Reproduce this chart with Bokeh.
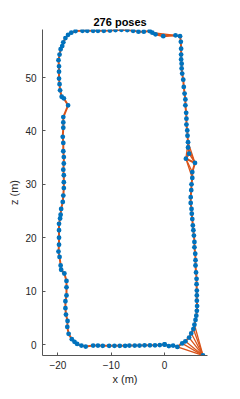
from bokeh.plotting import figure
from bokeh.models import Range1d, FixedTicker
from bokeh.embed import file_html
from bokeh.resources import INLINE

# pose positions (m), in trajectory order
pose_x = [0.0, 0.8, 1.6, 2.4, 3.3, 3.9, 4.6, 5.0, 5.4, 5.6, 5.8, 5.95, 6.05, 6.1, 6.05, 6.05, 6.05, 6.0, 6.0, 5.9,
          5.8, 5.8, 5.75, 5.6, 5.6, 5.5, 5.4, 5.3, 5.2, 5.1, 5.05, 4.9, 4.9, 5.0, 5.05, 5.2, 5.2, 5.7, 4.0, 4.6,
          4.4, 4.4, 4.3, 4.25, 4.1, 4.1, 4.05, 3.9, 3.9, 3.75, 3.6, 3.5, 3.3, 3.2, 3.2, 3.1, 3.1, 3.1, 3.05, 2.9,
          2.05, -0.25, -1.7, -2.3, -2.8, -3.9, -4.9, -5.9, -7.0, -8.1, -9.2, -10.25, -11.4, -12.5, -13.4, -14.5,
          -15.4, -16.7, -17.5, -18.1, -18.6, -19.0, -19.2, -19.5, -19.7, -19.9, -19.8, -19.8, -19.8, -19.7, -19.6,
          -19.3, -18.9, -18.1, -19.0, -19.0, -19.0, -19.1, -19.0, -19.0, -18.9, -18.9, -19.0, -18.9, -18.9, -18.9,
          -19.0, -19.1, -19.4, -19.5, -19.6, -19.8, -19.8, -19.8, -19.8, -19.9, -19.7, -19.5, -19.4, -18.8, -18.4,
          -18.4, -18.4, -18.6, -18.6, -18.5, -18.2, -18.25, -18.0, -17.4, -16.9, -16.4, -15.6, -14.8, -13.4, -12.5,
          -11.6, -10.4, -9.4, -8.4, -7.4, -6.6, -5.6, -4.7, -3.75, -2.75, -1.8, -0.9, 0.0]
pose_z = [0.0, -0.3, -0.2, -0.45, 0.2, 0.6, 1.3, 2.1, 2.9, 3.7, 4.6, 5.4, 6.3, 7.2, 8.2, 9.2, 10.1, 11.3, 12.3, 13.5,
          14.8, 15.8, 17.0, 18.2, 19.2, 20.4, 21.4, 22.3, 23.5, 24.5, 25.4, 26.5, 27.6, 28.9, 30.0, 31.2, 32.3, 34.0, 34.8, 35.75,
          36.9, 37.9, 39.1, 40.1, 41.2, 42.3, 43.4, 44.8, 45.9, 47.0, 48.25, 49.6, 50.75, 51.7, 52.6, 53.4, 54.3, 55.4, 56.7, 57.75,
          57.9, 57.75, 58.1, 58.4, 58.7, 58.6, 58.6, 58.75, 58.9, 58.95, 58.9, 58.8, 58.75, 58.75, 58.75, 58.75,
          58.75, 58.7, 58.4, 58.0, 57.4, 56.6, 55.9, 55.3, 54.3, 53.25, 52.1, 51.1, 49.8, 48.75, 47.6,
          46.4, 46.1, 44.8, 42.6, 41.6, 40.6, 38.9, 37.75, 36.2, 35.1, 33.9, 32.75, 31.7, 30.4, 29.3,
          27.9, 26.7, 25.4, 24.3, 23.6, 22.6, 21.4, 20.0, 18.7, 17.4, 16.4, 14.8, 14.0, 13.3, 11.9,
          10.7, 9.2, 8.1, 6.8, 5.6, 4.4, 3.3, 2.0, 1.0, 0.5, 0.1, -0.2, -0.38, -0.2, -0.2,
          -0.25, -0.25, -0.25, -0.25, -0.25, -0.2, -0.2, -0.2, -0.15, -0.15, -0.15, -0.1, 0.0]

# isolated pose with many loop-closure edges
extra_x = [7.2]
extra_z = [-2.05]

# loop-closure edges (start / end coordinates)
lc_x0 = [7.2, 7.2, 7.2, 7.2, 7.2, 7.2, 7.2, 5.7, 5.7, 5.7, 4.0, 4.0, 4.0, -2.3, -1.7]
lc_z0 = [-2.05, -2.05, -2.05, -2.05, -2.05, -2.05, -2.05, 34.0, 34.0, 34.0, 34.8, 34.8, 34.8, 58.4, 58.1]
lc_x1 = [2.4, 3.3, 3.9, 4.6, 5.0, 5.4, 5.6, 4.4, 4.6, 4.4, 5.2, 5.2, 4.4, 2.05, 2.9]
lc_z1 = [-0.45, 0.2, 0.6, 1.3, 2.1, 2.9, 3.7, 36.9, 35.75, 37.9, 32.3, 31.2, 37.9, 57.9, 57.75]

x_ticks = [-20, -10, 0]
z_ticks = [0, 10, 20, 30, 40, 50]

FONT = "Liberation Sans"
ORANGE = "#D95319"
BLUE = "#0072BD"
AX = "#262626"

p = figure(width=232, height=391, output_backend="svg", toolbar_location=None,
           x_range=Range1d(-22.9, 8.05), y_range=Range1d(-2.06, 59.0),
           min_border_left=42, min_border_right=25, min_border_top=29, min_border_bottom=36)

p.segment(x0=lc_x0, y0=lc_z0, x1=lc_x1, y1=lc_z1, line_color=ORANGE, line_width=1.3)
p.line(pose_x, pose_z, line_color=ORANGE, line_width=2)
p.scatter(pose_x, pose_z, size=4.8, fill_color=BLUE, line_color=None)
p.scatter(extra_x, extra_z, size=4.8, fill_color=BLUE, line_color=None)

p.title.text = "276 poses"
p.title.text_font = FONT
p.title.text_font_size = "11px"
p.title.text_font_style = "bold"
p.title.text_color = "#000000"
p.title.align = "left"
p.title.offset = 51
p.title.standoff = 3

p.xaxis.axis_label = "x (m)"
p.yaxis.axis_label = "z (m)"
p.xaxis.ticker = FixedTicker(ticks=x_ticks)
p.yaxis.ticker = FixedTicker(ticks=z_ticks)
for ax in (p.xaxis, p.yaxis):
    ax.axis_line_color = "#555555"
    ax.axis_line_width = 1
    ax.major_tick_in = 3
    ax.major_tick_out = 0
    ax.major_tick_line_color = "#555555"
    ax.minor_tick_line_color = None
    ax.major_label_text_font = FONT
    ax.major_label_text_font_size = "10px"
    ax.major_label_text_color = AX
    ax.axis_label_text_font = FONT
    ax.axis_label_text_font_size = "11px"
    ax.axis_label_text_font_style = "normal"
    ax.axis_label_text_color = AX
p.xaxis.major_label_standoff = 5
p.xaxis.axis_label_standoff = 1
p.yaxis.major_label_standoff = 6
p.yaxis.axis_label_standoff = 2

p.xgrid.visible = False
p.ygrid.visible = False
p.outline_line_color = None
p.background_fill_color = "white"
p.border_fill_color = "white"

open("out.html", "w").write(file_html(p, INLINE))
